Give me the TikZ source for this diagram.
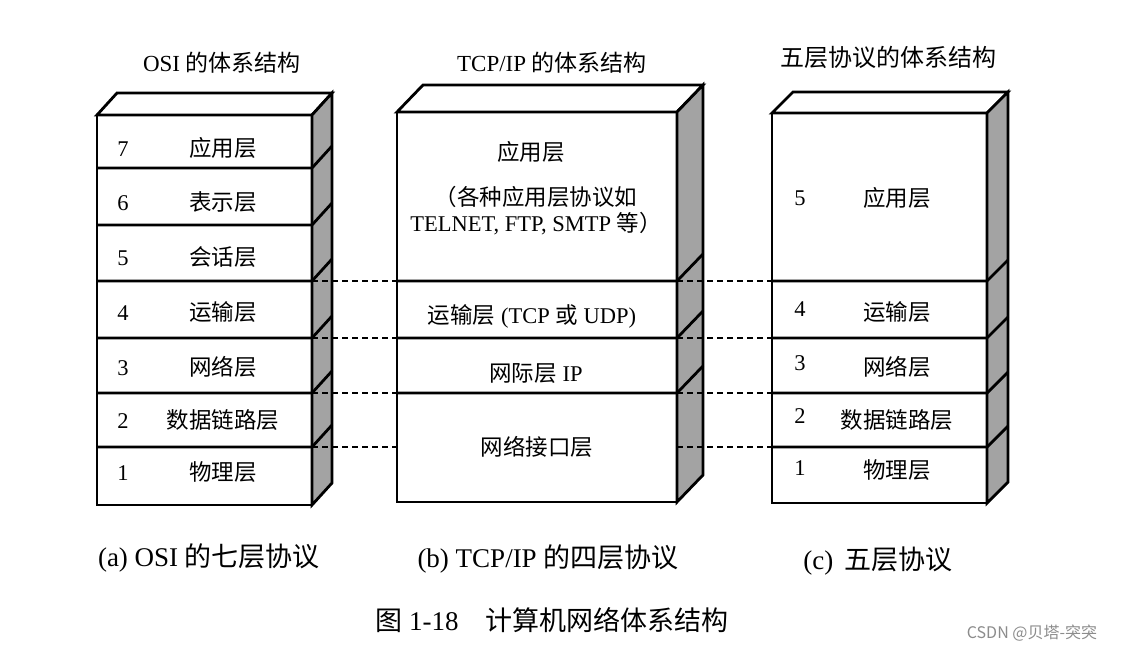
\documentclass[tikz,border=0pt]{standalone}
\usepackage{fontspec}
\setmainfont{Liberation Serif}
\newfontfamily\zh{Noto Sans CJK SC}
\tikzset{
  layerline/.style={line width=2.8pt, line join=miter},
  sideface/.style={layerline, fill=black!36},
  linkline/.style={line width=1.3pt, dash pattern=on 6pt off 4pt},
  lbl/.style={font=\fontsize{22.5}{26}\selectfont, inner sep=0pt, anchor=base, yshift=-8pt},
  zhlbl/.style={lbl, font=\zh\fontsize{22.5}{26}\selectfont},
  title/.style={lbl, font=\fontsize{23}{27}\selectfont},
  caption/.style={lbl, font=\fontsize{27}{31}\selectfont, yshift=-1.5pt},
}
% \stackbox{name}{left}{right}{top}{bottom}{dx}{dy}{boundaries}
\newcommand\stackbox[8]{%
  \fill[white] (#2,#4) rectangle (#3,#5);
  \draw[layerline, fill=white] (#2,#4) -- (#2+#6,#4-#7) -- (#3+#6,#4-#7) -- (#3,#4) -- cycle;
  \draw[sideface] (#3,#4) -- (#3+#6,#4-#7) -- (#3+#6,#5-#7) -- (#3,#5) -- cycle;
  \draw[layerline] (#2,#4) rectangle (#3,#5);
  \foreach \y in {#8} {
    \draw[layerline] (#2,\y) -- (#3,\y) -- (#3+#6,\y-#7);
    \coordinate (#1-l\y) at (#2,\y);
    \coordinate (#1-r\y) at (#3,\y);
  }%
}
\begin{document}
\begin{tikzpicture}[x=1pt,y=-1pt]
  % 三种体系结构的分层对照
  \fill[white, use as bounding box] (0,0) rectangle (1124,651);
  \stackbox{osi}{97}{312}{115}{505}{20}{22}{168,225,281,338,393,447}
  \stackbox{tcp}{397}{677}{112}{502}{26}{27}{281,338,393}
  \stackbox{five}{772}{987}{113}{503}{21}{21}{281,338,393,447}
  \coordinate (tcp-l447) at (397,447);
  \coordinate (tcp-r447) at (677,447);
  % 层间对应的虚线
  \foreach \y in {281,338,393,447} {
    \draw[linkline] (osi-r\y) -- (tcp-l\y);
    \draw[linkline] (tcp-r\y) -- (five-l\y);
  }

  % OSI 七层
  \foreach \n/\t/\y in {7/应用层/148, 6/表示层/202, 5/会话层/257, 4/运输层/312,
                        3/网络层/367, 2/数据链路层/420, 1/物理层/472} {
    \node[lbl] (osi-n\n) at (123,\y) {\n};
    \node[zhlbl] (osi-t\n) at (223,\y) {\t};
  }

  % TCP/IP 四层
  \node[zhlbl] (tcp-app) at (531,152) {应用层};
  \node[zhlbl] (tcp-app2) at (536,197) {（各种应用层协议如};
  \node[lbl] (tcp-app3) at (536,223) {TELNET, FTP, SMTP {\zh 等）}};
  \node[lbl] (tcp-tr) at (532,315) {{\zh 运输层} (TCP {\zh 或} UDP)};
  \node[lbl] (tcp-ip) at (536,373) {{\zh 网际层} IP};
  \node[zhlbl] (tcp-ni) at (537,447) {网络接口层};

  % 五层协议
  \foreach \n/\t/\y/\ny in {5/应用层/198/197, 4/运输层/312/308, 3/网络层/367/362,
                            2/数据链路层/420/415, 1/物理层/470/467} {
    \node[lbl] (five-n\n) at (800,\ny) {\n};
    \node[zhlbl] (five-t\n) at (897,\y) {\t};
  }

  % 标题与图注
  \node[title] (osi-title) at (222,63) {OSI {\zh 的体系结构}};
  \node[title] (tcp-title) at (552,63) {TCP/IP {\zh 的体系结构}};
  \node[title, font=\zh\fontsize{24}{28}\selectfont] (five-title) at (888,58) {五层协议的体系结构};
  \node[caption] (osi-cap) at (209,557) {(a) OSI {\zh 的七层协议}};
  \node[caption] (tcp-cap) at (548,558) {(b) TCP/IP {\zh 的四层协议}};
  \node[caption] (five-cap) at (878,560) {(c) \,{\zh 五层协议}};
  \node[caption] (fig-cap) at (552,621) {{\zh 图} 1-18\quad{\zh 计算机网络体系结构}};
  \node[lbl, font=\zh\fontsize{16}{18}\selectfont, text=black!45, yshift=2pt] (mark) at (1032,632) {CSDN @贝塔-突突};
\end{tikzpicture}
\end{document}
